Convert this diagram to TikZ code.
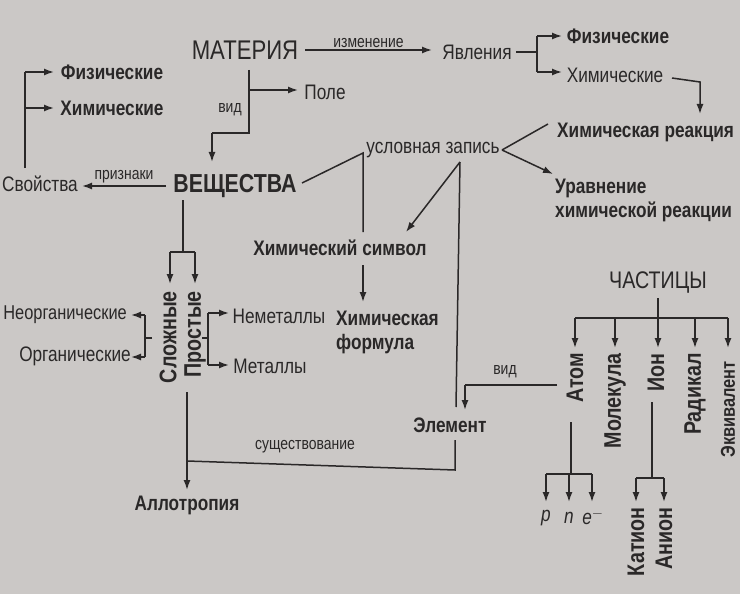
\documentclass[tikz,border=0pt]{standalone}
\usepackage{fontspec}
\setmainfont{Liberation Sans}[FakeStretch=0.82]
\usetikzlibrary{arrows.meta}
\definecolor{bg}{HTML}{CBC8C6}
\definecolor{ink}{HTML}{2A2828}
\begin{document}
\begin{tikzpicture}[x=1pt,y=-1pt,
  every node/.style={text=ink,inner sep=1pt,font=\fontsize{21}{23}\selectfont},
  bt/.style={font=\bfseries\fontsize{21}{24}\selectfont},
  lbl/.style={font=\fontsize{17}{19}\selectfont},
  ln/.style={draw=ink,line width=1.5pt},
  ar/.style={ln,-{Latex[length=10pt,width=7pt]}},
  rv/.style={rotate=90,anchor=east},
  rb/.style={rv,font=\bfseries\fontsize{24}{26}\selectfont}]
\fill[bg] (0,0) rectangle (740,594);
\useasboundingbox (0,0) rectangle (740,594);
% top
\node (mat) at (245,50) {\fontsize{27}{29}\selectfont МАТЕРИЯ};
\node (yav) at (477,52) {Явления};
\node[bt] (fiz1) at (618,36) {Физические};
\node (him1) at (615,75) {Химические};
\node[bt,anchor=west] (hr) at (556,132) {Химическая реакция};
\node[bt,align=left,anchor=west] (urv) at (554,200) {Уравнение\\химической реакции};
\node (pole) at (325,92) {Поле};
\node[lbl] at (230,110) {вид};
\draw[ar] (305,50) -- node[lbl,above=1pt]{изменение} (432,50);
\draw[ln] (516,52) -- (537,52);
\draw[ln] (537,36) -- (537,72);
\draw[ar] (537,36) -- (562,36);
\draw[ar] (537,72) -- (562,72);
\draw[ar] (672,78) -- (700,82) -- (700,114);
% left
\node[bt] (fiz2) at (112,72) {Физические};
\node[bt] (him2) at (112,108) {Химические};
\node (sv) at (40,184) {Свойства};
\node (vesh) at (235,186) {\bfseries\fontsize{26}{28}\selectfont ВЕЩЕСТВА};
\draw[ln] (25,168) -- (25,72);
\draw[ar] (25,72) -- (54,72);
\draw[ar] (25,108) -- (54,108);
\draw[ar] (166,186) -- node[lbl,above=1pt]{признаки} (82,186);
\draw[ln] (249,70) -- (249,133) -- (212,133);
\draw[ar] (249,90) -- (298,90);
\draw[ar] (212,133) -- (212,162);
% middle
\node (usl) at (433,150) {условная запись};
\node[bt] (hs) at (340,248) {Химический символ};
\node[bt,align=left,anchor=west] (hf) at (335,332) {Химическая\\формула};
\node[bt] (el) at (450,425) {Элемент};
\draw[ln] (302,183) -- (363,153) -- (363,232);
\draw[ar] (363,265) -- (363,302);
\draw[ar] (460,162) -- (406,232);
\draw[ln] (460,162) -- (456,407);
\draw[ln] (548,124) -- (502,150);
\draw[ar] (502,150) -- (553,174);
\draw[ln] (455,440) -- (455,470) -- (187,461);
\node[lbl] at (305,447) {существование};
% substances
\draw[ln] (183,200) -- (183,252);
\draw[ln] (170,252) -- (195,252);
\draw[ar] (170,252) -- (170,284);
\draw[ar] (195,252) -- (195,284);
\node[rb] (sl) at (168,290) {Сложные};
\node[rb] (pr) at (195,290) {Простые};
\draw[ln] (152,338) -- (145,338);
\draw[ln] (145,315) -- (145,357);
\draw[ar] (145,315) -- (131,315);
\draw[ar] (145,357) -- (131,357);
\node[anchor=east,font=\fontsize{20}{22}\selectfont] (neorg) at (128,315) {Неорганические};
\node (org) at (75,356) {Органические};
\draw[ln] (202,338) -- (208,338);
\draw[ln] (208,313) -- (208,365);
\draw[ar] (208,313) -- (229,313);
\draw[ar] (208,365) -- (229,365);
\node (nem) at (279,316) {Неметаллы};
\node (met) at (270,366) {Металлы};
\draw[ar] (187,392) -- (187,490);
\node[bt] (allo) at (187,505) {Аллотропия};
% particles
\node (ch) at (658,283) {\fontsize{24}{26}\selectfont ЧАСТИЦЫ};
\draw[ln] (658,298) -- (658,318);
\draw[ln] (575,318) -- (728,318);
\foreach \x in {575,615,658,695,728} \draw[ar] (\x,318) -- (\x,348);
\node[rb] (atom) at (575,352) {Атом};
\node[rb] (mol) at (615,352) {Молекула};
\node[rb] (ion) at (656,352) {Ион};
\node[rb] (rad) at (695,352) {Радикал};
\node[rv,font=\bfseries\fontsize{20}{22}\selectfont] (ekv) at (728,360) {Эквивалент};
\draw[ln] (557,385) -- (465,385);
\draw[ar] (465,385) -- (465,410);
\node[lbl] at (505,372) {вид};
\draw[ln] (571,422) -- (571,474);
\draw[ln] (546,474) -- (592,474);
\foreach \x in {546,569,592} \draw[ar] (\x,474) -- (\x,502);
\node (pp) at (546,518) {\itshape p};
\node (nn) at (569,518) {\itshape n};
\node (ee) at (593,517) {\itshape e$^{-}$};
\draw[ln] (652,402) -- (652,478);
\draw[ln] (636,478) -- (664,478);
\draw[ar] (636,478) -- (636,502);
\draw[ar] (664,478) -- (664,502);
\node[rb] (kat) at (636,506) {Катион};
\node[rb] (an) at (664,506) {Анион};
\end{tikzpicture}
\end{document}
